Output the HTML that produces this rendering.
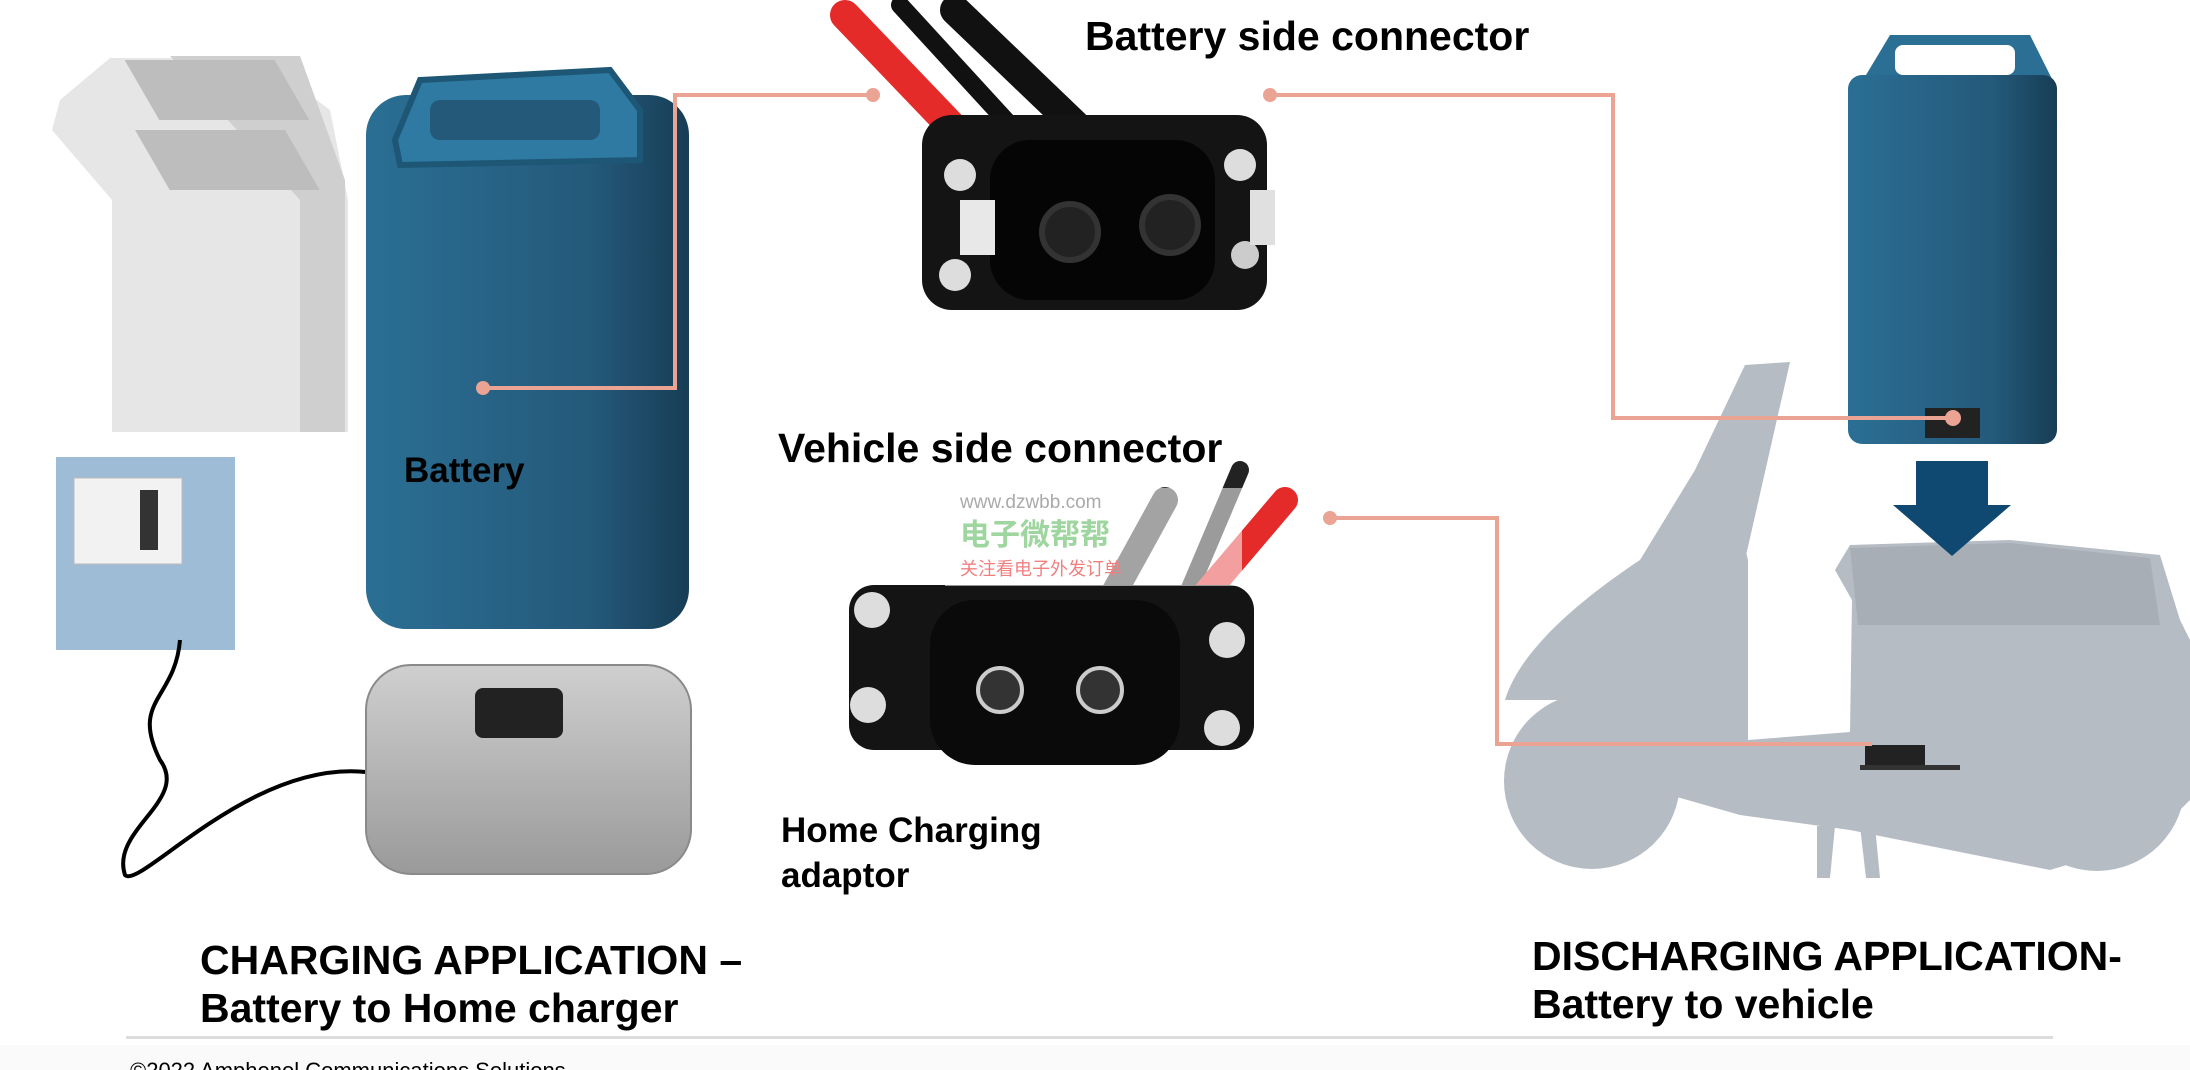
<!DOCTYPE html>
<html><head><meta charset="utf-8"><style>
html,body{margin:0;padding:0;background:#fff;}
svg{display:block}
text{font-family:"Liberation Sans","Noto Sans CJK SC",sans-serif;font-weight:bold;fill:#000}
</style></head><body>
<svg width="2190" height="1070" viewBox="0 0 2190 1070" xmlns="http://www.w3.org/2000/svg">
<defs>
<linearGradient id="bl" x1="0" x2="1"><stop offset="0" stop-color="#2b6f94"/><stop offset="0.7" stop-color="#24597a"/><stop offset="1" stop-color="#173d55"/></linearGradient>
<linearGradient id="gr" x1="0" y1="0" x2="0" y2="1"><stop offset="0" stop-color="#cfcfcf"/><stop offset="1" stop-color="#9a9a9a"/></linearGradient>
</defs>
<rect x="0" y="1045" width="2190" height="25" fill="#fafafa"/>
<!-- white stand -->
<path d="M60 100 L110 58 L260 58 L330 110 L348 200 L348 432 L112 432 L112 200 L52 130 Z" fill="#e6e6e6"/>
<path d="M170 56 L300 56 L345 180 L345 432 L300 432 L300 200 Z" fill="#cfcfcf"/>
<rect x="150" y="60" width="150" height="60" fill="#bdbdbd" transform="skewX(30) translate(-60 0)"/>
<rect x="150" y="130" width="150" height="60" fill="#bdbdbd" transform="skewX(30) translate(-90 0)"/>
<!-- wall socket -->
<rect x="56" y="457" width="179" height="193" fill="#9fbcd6"/>
<rect x="74" y="478" width="108" height="86" fill="#f2f2f2" stroke="#bbb"/>
<rect x="140" y="490" width="18" height="60" fill="#333"/>
<path d="M180 640 C175 700 130 700 160 760 C190 800 110 830 125 875 C140 890 250 760 366 772" fill="none" stroke="#000" stroke-width="4"/>
<!-- battery -->
<rect x="366" y="95" width="323" height="534" rx="40" fill="url(#bl)"/>
<path d="M395 140 L420 80 L610 70 L640 110 L640 160 L400 165 Z" fill="#2f7aa3" stroke="#1e5675" stroke-width="6"/>
<rect x="430" y="100" width="170" height="40" rx="10" fill="#24597a"/>
<!-- charger box -->
<rect x="366" y="665" width="325" height="209" rx="45" fill="url(#gr)" stroke="#8a8a8a" stroke-width="2"/>
<rect x="475" y="688" width="88" height="50" rx="8" fill="#222"/>
<!-- connector 1 wires -->
<g stroke-linecap="round" stroke-width="30">
<line x1="845" y1="15" x2="960" y2="135" stroke="#e52a2a"/>
<line x1="900" y1="5" x2="1010" y2="125" stroke="#111" stroke-width="18"/>
<line x1="955" y1="10" x2="1075" y2="125" stroke="#111"/>
</g>
<rect x="922" y="115" width="345" height="195" rx="30" fill="#141414"/>
<rect x="990" y="140" width="225" height="160" rx="40" fill="#050505"/>
<circle cx="960" cy="175" r="16" fill="#ddd"/><circle cx="955" cy="275" r="16" fill="#ddd"/>
<circle cx="1240" cy="165" r="16" fill="#ddd"/><circle cx="1245" cy="255" r="14" fill="#ccc"/>
<rect x="960" y="200" width="35" height="55" fill="#e8e8e8"/><rect x="1250" y="190" width="25" height="55" fill="#e0e0e0"/>
<circle cx="1070" cy="232" r="28" fill="#222" stroke="#333" stroke-width="6"/><circle cx="1170" cy="225" r="28" fill="#222" stroke="#333" stroke-width="6"/>
<!-- connector 2 -->
<g stroke-linecap="round" stroke-width="26">
<line x1="1165" y1="500" x2="1110" y2="600" stroke="#333"/>
<line x1="1240" y1="470" x2="1185" y2="600" stroke="#222" stroke-width="18"/>
<line x1="1285" y1="500" x2="1200" y2="600" stroke="#e52a2a"/>
</g>
<rect x="849" y="585" width="405" height="165" rx="25" fill="#141414"/>
<rect x="930" y="600" width="250" height="165" rx="45" fill="#0a0a0a"/>
<circle cx="872" cy="610" r="18" fill="#ddd"/><circle cx="868" cy="705" r="18" fill="#ddd"/>
<circle cx="1227" cy="640" r="18" fill="#ddd"/><circle cx="1222" cy="728" r="18" fill="#ddd"/>
<circle cx="1000" cy="690" r="22" fill="#333" stroke="#ccc" stroke-width="4"/><circle cx="1100" cy="690" r="22" fill="#333" stroke="#ccc" stroke-width="4"/>
<!-- watermark -->
<rect x="945" y="488" width="297" height="98" fill="#fff" opacity="0.55"/>
<text x="960" y="508" font-size="19" style="fill:#aaa;font-weight:normal">www.dzwbb.com</text>
<text x="960" y="545" font-size="30" style="fill:#9fd59f">电子微帮帮</text>
<text x="960" y="575" font-size="18" style="fill:#f08080;font-weight:normal">关注看电子外发订单</text>
<!-- scooter -->
<g fill="#b6bcc4">
<circle cx="1592" cy="781" r="88"/><circle cx="2097" cy="783" r="88"/>
<path d="M1505 700 C1520 650 1580 600 1640 560 L1695 470 L1725 470 L1748 560 L1748 740 L1850 732 L1852 600 L1835 570 L1850 545 L2010 540 L2160 555 L2180 620 L2190 640 L2190 800 L2150 840 L2050 870 L1850 830 L1740 815 L1670 795 L1560 700 Z"/>
<path d="M1695 470 L1745 365 L1790 362 L1770 450 L1745 560 Z"/>
<path d="M1817 826 L1835 826 L1830 878 L1817 878 Z M1860 826 L1875 826 L1880 878 L1866 878 Z"/>
</g>
<path d="M1850 548 L2010 543 L2150 558 L2160 625 L1858 625 Z" fill="#a8aeb6"/>
<rect x="1865" y="745" width="60" height="24" fill="#222"/><rect x="1860" y="765" width="100" height="5" fill="#333"/>
<!-- right battery -->
<path d="M1860 85 L1890 35 L2030 35 L2055 85 Z" fill="#2b6f94"/>
<rect x="1895" y="45" width="120" height="30" rx="8" fill="#fff"/>
<rect x="1848" y="75" width="209" height="369" rx="14" fill="url(#bl)"/>
<rect x="1925" y="408" width="55" height="30" fill="#222"/>
<rect x="1916" y="461" width="72" height="50" fill="#0f4870"/>
<polygon points="1893,505 2011,505 1952,556" fill="#0f4870"/>
<!-- pink connectors -->
<g fill="none" stroke="#eba393" stroke-width="4">
<polyline points="483,388 675,388 675,95 873,95"/>
<polyline points="1270,95 1613,95 1613,418 1953,418"/>
<polyline points="1330,518 1497,518 1497,744 1872,744"/>
</g>
<g fill="#eba393"><circle cx="483" cy="388" r="7"/><circle cx="873" cy="95" r="7"/><circle cx="1270" cy="95" r="7"/><circle cx="1953" cy="418" r="8"/><circle cx="1330" cy="518" r="7"/></g>
<!-- labels -->
<text x="1085" y="50" font-size="41">Battery side connector</text>
<text x="778" y="462" font-size="41">Vehicle side connector</text>
<text x="404" y="482" font-size="35">Battery</text>
<text x="781" y="842" font-size="35">Home Charging</text>
<text x="781" y="887" font-size="35">adaptor</text>
<text x="200" y="974" font-size="41">CHARGING APPLICATION –</text>
<text x="200" y="1022" font-size="41">Battery to Home charger</text>
<text x="1532" y="970" font-size="41">DISCHARGING APPLICATION-</text>
<text x="1532" y="1018" font-size="41">Battery to vehicle</text>
<rect x="126" y="1036" width="1927" height="3" fill="#ddd"/>
<text x="130" y="1078" font-size="22" style="font-weight:normal">©2022 Amphenol Communications Solutions</text>
</svg>
</body></html>
